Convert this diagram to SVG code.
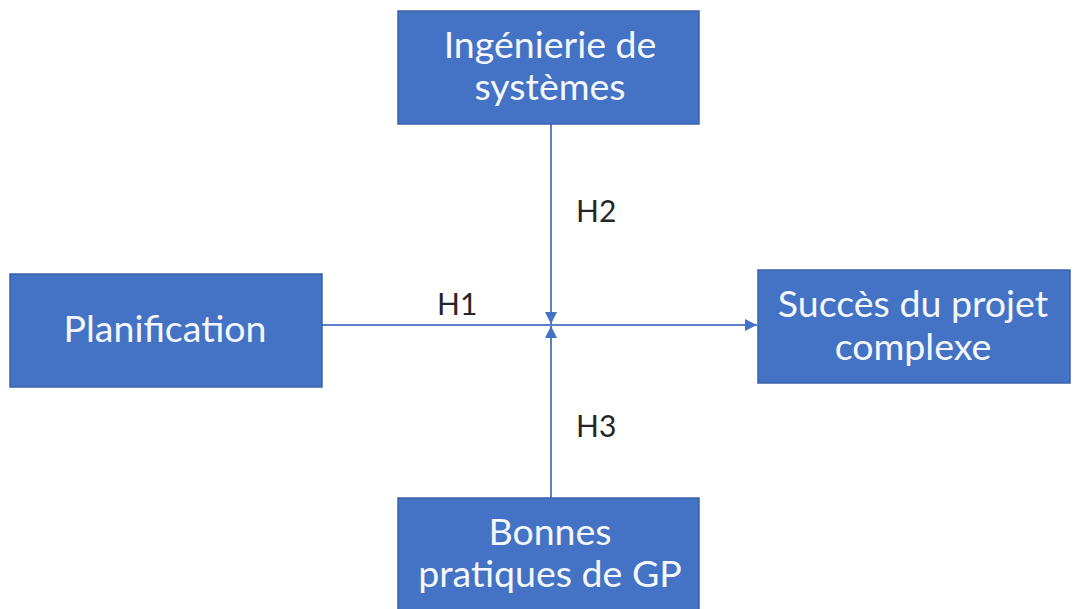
<svg xmlns="http://www.w3.org/2000/svg" width="1089" height="609" viewBox="0 0 1089 609">
  <style>
    .box { fill: #4472C4; stroke: #3B63AC; stroke-width: 1.5; }
    .lbl { fill: #F4F7FC; font-family: Lato, "Open Sans", "Liberation Sans", sans-serif; font-size: 37.5px; text-anchor: middle; }
    .edge { stroke: #5B7FC8; stroke-width: 2; fill: none; }
    .hyp { fill: #262626; font-family: Lato, "Open Sans", "Liberation Sans", sans-serif; font-size: 30px; }
  </style>
  <defs>
    <marker id="tri" viewBox="0 0 10 10" refX="10" refY="5" markerWidth="6" markerHeight="6" orient="auto">
      <path d="M0,0 L10,5 L0,10 Z" fill="#4472C4"/>
    </marker>
  </defs>
  <rect width="1089" height="609" fill="#ffffff"/>

  <g id="connectors">
    <line class="edge" x1="322" y1="325" x2="757" y2="325" marker-end="url(#tri)"/>
    <line class="edge" x1="551" y1="124" x2="551" y2="324" marker-end="url(#tri)"/>
    <line class="edge" x1="551" y1="498" x2="551" y2="326" marker-end="url(#tri)"/>
    <text class="hyp" x="437" y="315">H1</text>
    <text class="hyp" x="576" y="222">H2</text>
    <text class="hyp" x="576" y="437">H3</text>
  </g>

  <g id="node-ingenierie">
    <rect class="box" x="398" y="11" width="301" height="113"/>
    <text class="lbl" x="550" y="58">Ingénierie de</text>
    <text class="lbl" x="550" y="100">systèmes</text>
  </g>

  <g id="node-planification">
    <rect class="box" x="10" y="274" width="312" height="113"/>
    <text class="lbl" x="165" y="342">Planification</text>
  </g>

  <g id="node-succes">
    <rect class="box" x="758" y="270" width="312" height="113"/>
    <text class="lbl" x="913" y="317">Succès du projet</text>
    <text class="lbl" x="913" y="360">complexe</text>
  </g>

  <g id="node-bonnes-pratiques">
    <rect class="box" x="398" y="498" width="301" height="120"/>
    <text class="lbl" x="550" y="545">Bonnes</text>
    <text class="lbl" x="550" y="587">pratiques de GP</text>
  </g>
</svg>
